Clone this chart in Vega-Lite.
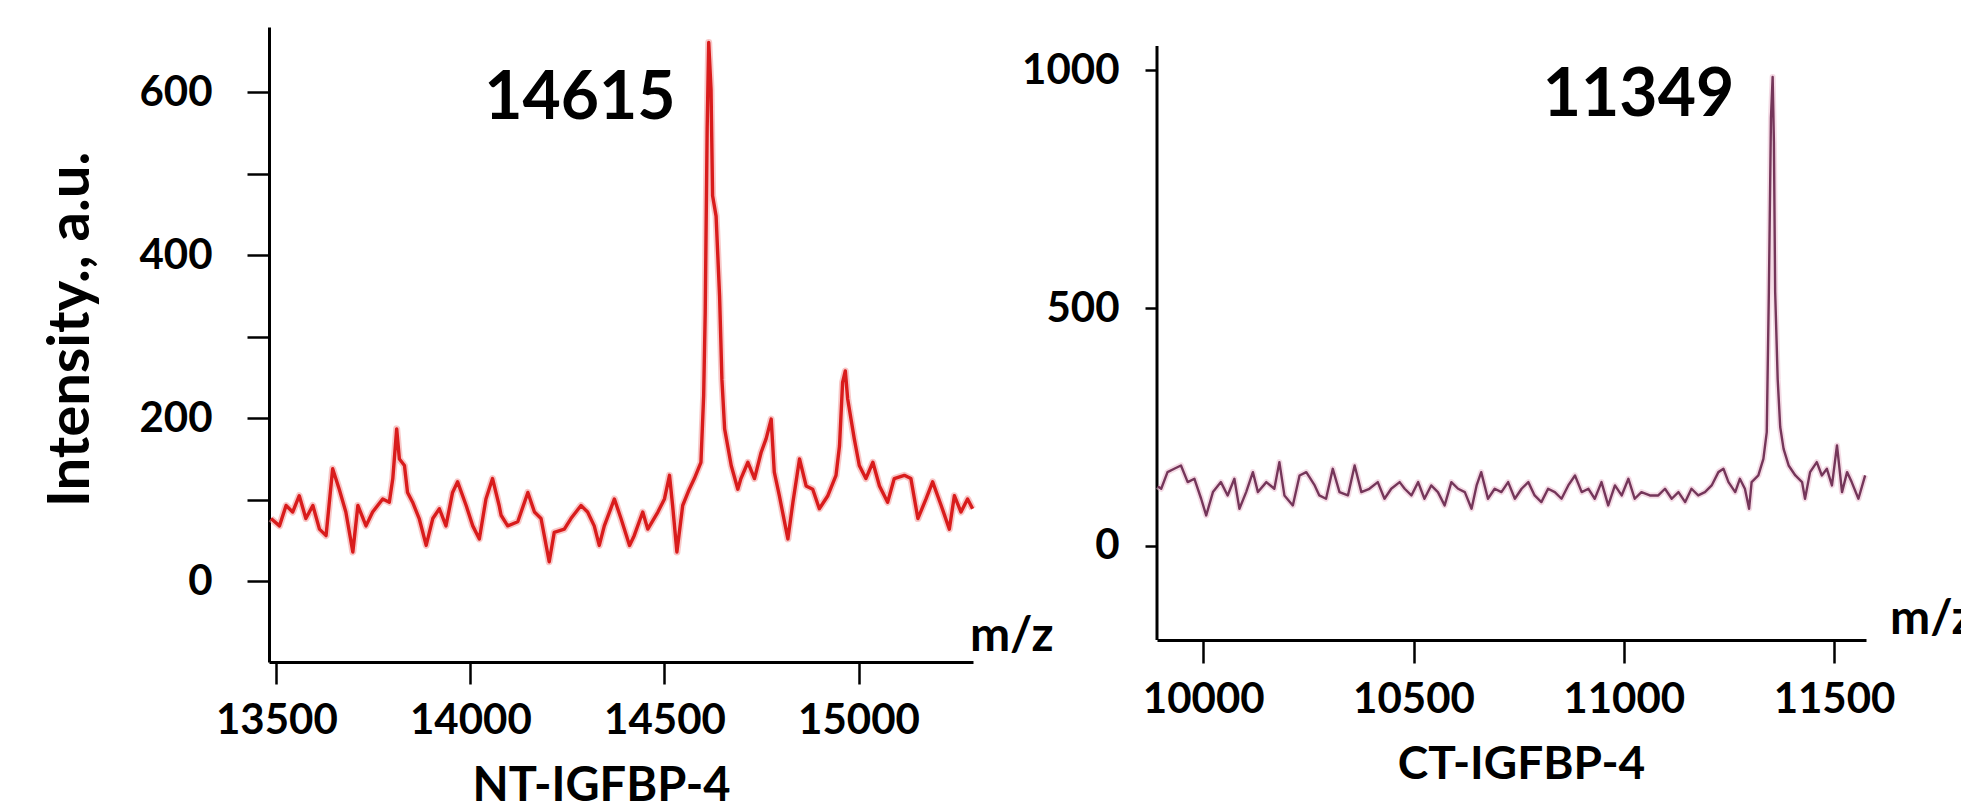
{
  "$schema": "https://vega.github.io/schema/vega-lite/v6.json",
  "padding": {"left": 42, "top": 27, "right": 0, "bottom": 0},
  "background": "white",
  "bounds": "flush",
  "spacing": 184,
  "config": {
    "view": {"stroke": null},
    "font": "Lato",
    "axis": {
      "grid": false,
      "domainColor": "black",
      "domainWidth": 3,
      "tickColor": "black",
      "tickWidth": 2.5,
      "labelFont": "Lato",
      "labelFontWeight": "bold",
      "labelFontSize": 42,
      "labelColor": "black",
      "titleFont": "Lato",
      "titleFontWeight": "bold",
      "titleColor": "black"
    }
  },
  "datasets": {
    "nt": [
      {"mz": 13486, "intensity": 77}, {"mz": 13508, "intensity": 68}, {"mz": 13525, "intensity": 93}, {"mz": 13542, "intensity": 85},
      {"mz": 13559, "intensity": 105}, {"mz": 13576, "intensity": 77}, {"mz": 13594, "intensity": 93}, {"mz": 13611, "intensity": 64},
      {"mz": 13628, "intensity": 56}, {"mz": 13645, "intensity": 138}, {"mz": 13662, "intensity": 113}, {"mz": 13679, "intensity": 85},
      {"mz": 13697, "intensity": 36}, {"mz": 13710, "intensity": 93}, {"mz": 13731, "intensity": 68}, {"mz": 13748, "intensity": 85},
      {"mz": 13774, "intensity": 101}, {"mz": 13791, "intensity": 97}, {"mz": 13800, "intensity": 126}, {"mz": 13810, "intensity": 187},
      {"mz": 13817, "intensity": 150}, {"mz": 13830, "intensity": 142}, {"mz": 13838, "intensity": 109}, {"mz": 13851, "intensity": 97},
      {"mz": 13868, "intensity": 77}, {"mz": 13886, "intensity": 44}, {"mz": 13903, "intensity": 77}, {"mz": 13920, "intensity": 89},
      {"mz": 13937, "intensity": 68}, {"mz": 13954, "intensity": 109}, {"mz": 13967, "intensity": 122}, {"mz": 13989, "intensity": 93},
      {"mz": 14006, "intensity": 68}, {"mz": 14023, "intensity": 52}, {"mz": 14040, "intensity": 101}, {"mz": 14057, "intensity": 126},
      {"mz": 14074, "intensity": 93}, {"mz": 14079, "intensity": 81}, {"mz": 14096, "intensity": 68}, {"mz": 14122, "intensity": 73},
      {"mz": 14148, "intensity": 109}, {"mz": 14165, "intensity": 85}, {"mz": 14182, "intensity": 77}, {"mz": 14203, "intensity": 24},
      {"mz": 14216, "intensity": 60}, {"mz": 14242, "intensity": 64}, {"mz": 14259, "intensity": 77}, {"mz": 14285, "intensity": 93},
      {"mz": 14302, "intensity": 85}, {"mz": 14319, "intensity": 68}, {"mz": 14332, "intensity": 44}, {"mz": 14345, "intensity": 68},
      {"mz": 14371, "intensity": 101}, {"mz": 14388, "intensity": 77}, {"mz": 14410, "intensity": 44}, {"mz": 14422, "intensity": 56},
      {"mz": 14444, "intensity": 85}, {"mz": 14457, "intensity": 64}, {"mz": 14483, "intensity": 85}, {"mz": 14500, "intensity": 101},
      {"mz": 14513, "intensity": 130}, {"mz": 14521, "intensity": 93}, {"mz": 14532, "intensity": 36}, {"mz": 14547, "intensity": 93},
      {"mz": 14564, "intensity": 113}, {"mz": 14577, "intensity": 126}, {"mz": 14594, "intensity": 146}, {"mz": 14601, "intensity": 228},
      {"mz": 14605, "intensity": 330}, {"mz": 14610, "intensity": 555}, {"mz": 14614, "intensity": 661}, {"mz": 14620, "intensity": 603},
      {"mz": 14624, "intensity": 473}, {"mz": 14633, "intensity": 448}, {"mz": 14642, "intensity": 350}, {"mz": 14648, "intensity": 248},
      {"mz": 14655, "intensity": 187}, {"mz": 14672, "intensity": 142}, {"mz": 14689, "intensity": 113}, {"mz": 14697, "intensity": 126},
      {"mz": 14715, "intensity": 146}, {"mz": 14732, "intensity": 126}, {"mz": 14749, "intensity": 158}, {"mz": 14762, "intensity": 175},
      {"mz": 14775, "intensity": 199}, {"mz": 14783, "intensity": 134}, {"mz": 14796, "intensity": 105}, {"mz": 14818, "intensity": 52},
      {"mz": 14831, "intensity": 97}, {"mz": 14848, "intensity": 150}, {"mz": 14865, "intensity": 117}, {"mz": 14882, "intensity": 113},
      {"mz": 14899, "intensity": 89}, {"mz": 14921, "intensity": 105}, {"mz": 14942, "intensity": 130}, {"mz": 14951, "intensity": 166},
      {"mz": 14959, "intensity": 244}, {"mz": 14966, "intensity": 258}, {"mz": 14972, "intensity": 224}, {"mz": 14989, "intensity": 175},
      {"mz": 15002, "intensity": 142}, {"mz": 15019, "intensity": 126}, {"mz": 15037, "intensity": 146}, {"mz": 15054, "intensity": 117},
      {"mz": 15075, "intensity": 97}, {"mz": 15092, "intensity": 126}, {"mz": 15118, "intensity": 130}, {"mz": 15135, "intensity": 126},
      {"mz": 15153, "intensity": 77}, {"mz": 15174, "intensity": 101}, {"mz": 15191, "intensity": 122}, {"mz": 15213, "intensity": 93},
      {"mz": 15234, "intensity": 64}, {"mz": 15247, "intensity": 105}, {"mz": 15264, "intensity": 85}, {"mz": 15281, "intensity": 101},
      {"mz": 15294, "intensity": 89}
    ],
    "ct": [
      {"mz": 9892, "intensity": 125}, {"mz": 9900, "intensity": 120}, {"mz": 9915, "intensity": 155}, {"mz": 9931, "intensity": 162},
      {"mz": 9947, "intensity": 169}, {"mz": 9963, "intensity": 134}, {"mz": 9979, "intensity": 141}, {"mz": 9995, "intensity": 99},
      {"mz": 10007, "intensity": 64}, {"mz": 10023, "intensity": 113}, {"mz": 10042, "intensity": 134}, {"mz": 10058, "intensity": 106},
      {"mz": 10074, "intensity": 141}, {"mz": 10086, "intensity": 78}, {"mz": 10102, "intensity": 113}, {"mz": 10118, "intensity": 155},
      {"mz": 10130, "intensity": 113}, {"mz": 10150, "intensity": 134}, {"mz": 10169, "intensity": 120}, {"mz": 10181, "intensity": 176},
      {"mz": 10193, "intensity": 106}, {"mz": 10213, "intensity": 85}, {"mz": 10229, "intensity": 148}, {"mz": 10245, "intensity": 155},
      {"mz": 10265, "intensity": 127}, {"mz": 10276, "intensity": 106}, {"mz": 10292, "intensity": 99}, {"mz": 10308, "intensity": 162},
      {"mz": 10324, "intensity": 113}, {"mz": 10344, "intensity": 106}, {"mz": 10360, "intensity": 169}, {"mz": 10376, "intensity": 113},
      {"mz": 10395, "intensity": 120}, {"mz": 10415, "intensity": 134}, {"mz": 10431, "intensity": 99}, {"mz": 10447, "intensity": 120},
      {"mz": 10467, "intensity": 134}, {"mz": 10479, "intensity": 120}, {"mz": 10495, "intensity": 106}, {"mz": 10511, "intensity": 134},
      {"mz": 10526, "intensity": 99}, {"mz": 10542, "intensity": 127}, {"mz": 10558, "intensity": 113}, {"mz": 10574, "intensity": 85},
      {"mz": 10590, "intensity": 134}, {"mz": 10606, "intensity": 120}, {"mz": 10622, "intensity": 113}, {"mz": 10638, "intensity": 78},
      {"mz": 10650, "intensity": 127}, {"mz": 10661, "intensity": 155}, {"mz": 10677, "intensity": 99}, {"mz": 10693, "intensity": 120},
      {"mz": 10709, "intensity": 113}, {"mz": 10725, "intensity": 134}, {"mz": 10741, "intensity": 99}, {"mz": 10757, "intensity": 120},
      {"mz": 10773, "intensity": 134}, {"mz": 10788, "intensity": 106}, {"mz": 10804, "intensity": 92}, {"mz": 10820, "intensity": 120},
      {"mz": 10836, "intensity": 113}, {"mz": 10852, "intensity": 99}, {"mz": 10868, "intensity": 127}, {"mz": 10884, "intensity": 148},
      {"mz": 10900, "intensity": 113}, {"mz": 10916, "intensity": 120}, {"mz": 10931, "intensity": 99}, {"mz": 10947, "intensity": 134},
      {"mz": 10963, "intensity": 85}, {"mz": 10979, "intensity": 127}, {"mz": 10995, "intensity": 106}, {"mz": 11011, "intensity": 141},
      {"mz": 11026, "intensity": 99}, {"mz": 11042, "intensity": 113}, {"mz": 11062, "intensity": 106}, {"mz": 11082, "intensity": 106},
      {"mz": 11098, "intensity": 120}, {"mz": 11114, "intensity": 99}, {"mz": 11130, "intensity": 113}, {"mz": 11146, "intensity": 92},
      {"mz": 11161, "intensity": 120}, {"mz": 11177, "intensity": 106}, {"mz": 11193, "intensity": 113}, {"mz": 11209, "intensity": 127},
      {"mz": 11225, "intensity": 155}, {"mz": 11237, "intensity": 162}, {"mz": 11249, "intensity": 134}, {"mz": 11265, "intensity": 113},
      {"mz": 11276, "intensity": 141}, {"mz": 11288, "intensity": 120}, {"mz": 11298, "intensity": 78}, {"mz": 11304, "intensity": 134},
      {"mz": 11320, "intensity": 148}, {"mz": 11332, "intensity": 183}, {"mz": 11340, "intensity": 239}, {"mz": 11345, "intensity": 534},
      {"mz": 11350, "intensity": 900}, {"mz": 11354, "intensity": 986}, {"mz": 11357, "intensity": 850}, {"mz": 11360, "intensity": 534},
      {"mz": 11366, "intensity": 350}, {"mz": 11372, "intensity": 250}, {"mz": 11380, "intensity": 204}, {"mz": 11392, "intensity": 169},
      {"mz": 11408, "intensity": 148}, {"mz": 11424, "intensity": 134}, {"mz": 11431, "intensity": 99}, {"mz": 11443, "intensity": 155},
      {"mz": 11459, "intensity": 176}, {"mz": 11471, "intensity": 148}, {"mz": 11483, "intensity": 162}, {"mz": 11495, "intensity": 127},
      {"mz": 11507, "intensity": 211}, {"mz": 11519, "intensity": 113}, {"mz": 11531, "intensity": 155}, {"mz": 11542, "intensity": 134},
      {"mz": 11558, "intensity": 99}, {"mz": 11574, "intensity": 148}
    ]
  },
  "hconcat": [
    {
      "width": 704,
      "height": 635,
      "encoding": {
        "x": {
          "field": "mz", "type": "quantitative",
          "scale": {"domain": [13481, 15295], "nice": false, "zero": false},
          "axis": {
            "values": [13500, 14000, 14500, 15000], "format": "d",
            "tickSize": 22, "labelPadding": 16,
            "title": "NT-IGFBP-4", "titleFontSize": 47, "titlePadding": 22, "titleX": 332
          }
        },
        "y": {
          "field": "intensity", "type": "quantitative",
          "scale": {"domain": [-99, 680], "nice": false, "zero": false},
          "axis": {
            "values": [0, 100, 200, 300, 400, 500, 600],
            "labelExpr": "datum.value % 200 == 0 ? datum.label : ''",
            "tickSize": 22, "labelPadding": 35,
            "title": "Intensity., a.u.", "titleFontSize": 58, "titlePadding": 38, "titleY": 302
          }
        }
      },
      "layer": [
        {
          "data": {"name": "nt"},
          "mark": {"type": "line", "color": "#f29a9a", "strokeWidth": 7, "opacity": 0.55, "strokeJoin": "round"}
        },
        {
          "data": {"name": "nt"},
          "mark": {"type": "line", "color": "#d91c1c", "strokeWidth": 3.4, "strokeJoin": "round"}
        },
        {
          "data": {"values": [{"mz": 14282, "intensity": 592, "label": "14615"}]},
          "mark": {"type": "text", "font": "Lato", "fontWeight": "bold", "fontSize": 66, "align": "center", "baseline": "middle", "color": "black"},
          "encoding": {"text": {"field": "label"}}
        },
        {
          "data": {"values": [{"mz": 15287, "intensity": -68, "label": "m/z"}]},
          "mark": {"type": "text", "font": "Lato", "fontWeight": "bold", "fontSize": 48, "align": "left", "baseline": "middle", "color": "black"},
          "encoding": {"text": {"field": "label"}}
        }
      ]
    },
    {
      "width": 709,
      "height": 613,
      "encoding": {
        "x": {
          "field": "mz", "type": "quantitative",
          "scale": {"domain": [9890, 11576], "nice": false, "zero": false},
          "axis": {
            "values": [10000, 10500, 11000, 11500], "format": "d",
            "tickSize": 23, "labelPadding": 16,
            "title": "CT-IGFBP-4", "titleFontSize": 46, "titlePadding": 22, "titleX": 364
          }
        },
        "y": {
          "field": "intensity", "type": "quantitative",
          "scale": {"domain": [-198, 1091], "nice": false, "zero": false},
          "axis": {
            "values": [0, 500, 1000], "format": "d",
            "domain": false,
            "tickSize": 12, "labelPadding": 26,
            "title": null
          }
        }
      },
      "layer": [
        {
          "data": {"values": [{"mz": 9890, "intensity": -198, "top": 1051}]},
          "mark": {"type": "rule", "color": "black", "strokeWidth": 3},
          "encoding": {"y2": {"field": "top"}}
        },
        {
          "data": {"name": "ct"},
          "mark": {"type": "line", "color": "#ecc3d3", "strokeWidth": 6, "opacity": 0.6, "strokeJoin": "round"}
        },
        {
          "data": {"name": "ct"},
          "mark": {"type": "line", "color": "#75365a", "strokeWidth": 2.4, "strokeJoin": "round"}
        },
        {
          "data": {"values": [{"mz": 11035, "intensity": 946, "label": "11349"}]},
          "mark": {"type": "text", "font": "Lato", "fontWeight": "bold", "fontSize": 66, "align": "center", "baseline": "middle", "color": "black"},
          "encoding": {"text": {"field": "label"}}
        },
        {
          "data": {"values": [{"mz": 11633, "intensity": -156, "label": "m/z"}]},
          "mark": {"type": "text", "font": "Lato", "fontWeight": "bold", "fontSize": 48, "align": "left", "baseline": "middle", "color": "black"},
          "encoding": {"text": {"field": "label"}}
        }
      ]
    }
  ]
}
